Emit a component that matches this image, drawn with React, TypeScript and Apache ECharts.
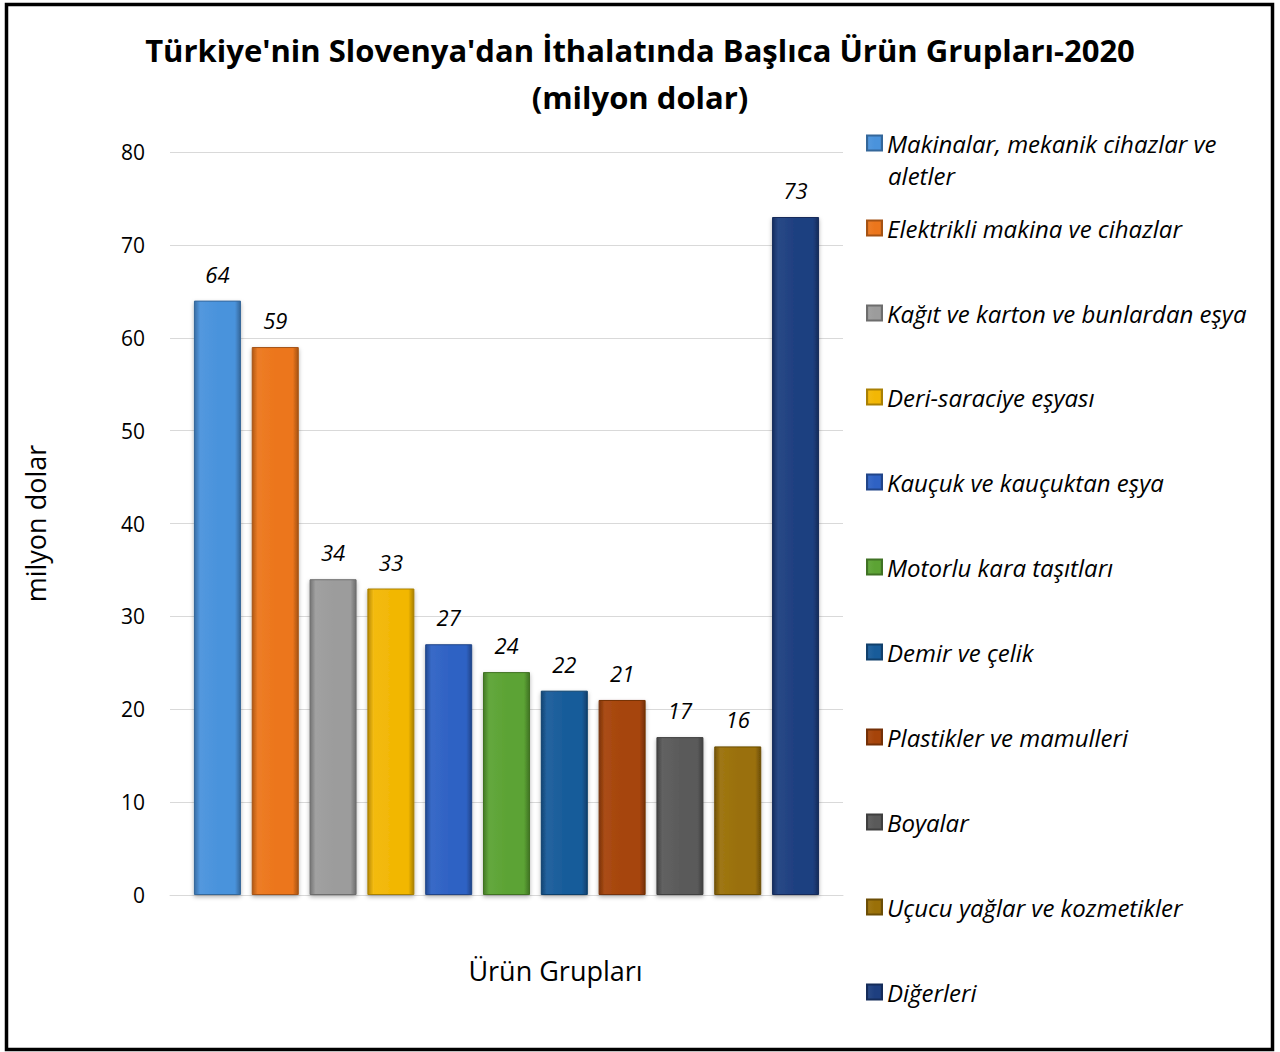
import React, { useEffect, useRef } from "react";
import * as echarts from "echarts";

const categories = [
  "Makinalar, mekanik cihazlar ve aletler",
  "Elektrikli makina ve cihazlar",
  "Kağıt ve karton ve bunlardan eşya",
  "Deri-saraciye eşyası",
  "Kauçuk ve kauçuktan eşya",
  "Motorlu kara taşıtları",
  "Demir ve çelik",
  "Plastikler ve mamulleri",
  "Boyalar",
  "Uçucu yağlar ve kozmetikler",
  "Diğerleri",
];
const values = [64, 59, 34, 33, 27, 24, 22, 21, 17, 16, 73];
const colors = [
  "#4A93DC",
  "#EC761C",
  "#9C9C9C",
  "#F2B705",
  "#2F62C4",
  "#5CA334",
  "#185C9A",
  "#A6440A",
  "#5A5A5A",
  "#9A7008",
  "#1E3F80",
];
const titleText = "Türkiye'nin Slovenya'dan İthalatında Başlıca Ürün Grupları-2020\n(milyon dolar)";
const yAxisName = "milyon dolar";
const xAxisName = "Ürün Grupları";

const FONT = "'Open Sans', 'Noto Sans', sans-serif";

function shade(hex: string, f: number): string {
  const n = parseInt(hex.slice(1), 16);
  let r = (n >> 16) & 255, g = (n >> 8) & 255, b = n & 255;
  if (f < 0) {
    r = Math.round(r * (1 + f)); g = Math.round(g * (1 + f)); b = Math.round(b * (1 + f));
  } else {
    r = Math.round(r + (255 - r) * f); g = Math.round(g + (255 - g) * f); b = Math.round(b + (255 - b) * f);
  }
  return `rgb(${r},${g},${b})`;
}

export default function App() {
  const ref = useRef<HTMLDivElement>(null);
  useEffect(() => {
    document.body.style.margin = "0";
    const chart = echarts.init(ref.current!, null, { renderer: "svg" });
    const legendTops = [143, 228, 313, 397, 482, 567, 652, 737, 822, 907, 992];
    const series = categories.map((name, i) => ({
      name,
      type: "bar",
      data: [values[i]],
      barWidth: 47,
      barGap: "23%",
      itemStyle: {
        color: new echarts.graphic.LinearGradient(0, 0, 1, 0, [
          { offset: 0, color: shade(colors[i], -0.25) },
          { offset: 0.12, color: shade(colors[i], 0.05) },
          { offset: 0.5, color: colors[i] },
          { offset: 0.88, color: shade(colors[i], 0.0) },
          { offset: 1, color: shade(colors[i], -0.3) },
        ]),
        borderColor: shade(colors[i], -0.3),
        borderWidth: 1,
        shadowBlur: 4,
        shadowColor: "rgba(0,0,0,0.3)",
        shadowOffsetY: 2,
      },
      label: {
        show: true,
        position: "top",
        distance: 16,
        fontFamily: FONT,
        fontStyle: "italic",
        fontSize: 22,
        color: "#000",
      },
    }));
    const legends = categories.map((name, i) => ({
      data: [name],
      orient: "vertical",
      left: 866,
      top: legendTops[i] - 15,
      padding: 0,
      itemWidth: 15,
      itemHeight: 15,
      itemGap: 0,
      icon: "rect",
      formatter: (n: string) => (i === 0 ? "Makinalar, mekanik cihazlar ve" : n),
      textStyle: {
        fontFamily: FONT,
        fontStyle: "italic",
        fontSize: 24,
        lineHeight: 30,
        color: "#000",
      },
    }));
    chart.setOption({
      animation: false,
      backgroundColor: "#fff",
      title: {
        text: titleText,
        left: "center",
        top: 26,
        padding: 0,
        textStyle: {
          fontFamily: FONT,
          fontWeight: "bold",
          fontSize: 31,
          lineHeight: 47,
          color: "#000",
        },
      },
      legend: legends,
      grid: { left: 170, right: 437, top: 152, bottom: 157 },
      xAxis: {
        type: "category",
        data: [""],
        axisLabel: { show: false },
        axisTick: { show: false },
        axisLine: { lineStyle: { color: "#d9d9d9", width: 1 } },
        name: xAxisName,
        nameLocation: "middle",
        nameGap: 62,
        nameTextStyle: { fontFamily: FONT, fontSize: 27, color: "#000", padding: [0, 0, 0, 98] },
      },
      yAxis: {
        type: "value",
        min: 0,
        max: 80,
        interval: 10,
        axisLine: { show: false },
        axisTick: { show: false },
        splitLine: { lineStyle: { color: "#d9d9d9", width: 1 } },
        axisLabel: { fontFamily: FONT, fontSize: 21, color: "#000", margin: 25 },
        name: yAxisName,
        nameLocation: "middle",
        nameGap: 121,
        nameRotate: 90,
        nameTextStyle: { fontFamily: FONT, fontSize: 27, color: "#000" },
      },
      series,
      graphic: [
        {
          type: "rect",
          shape: { x: 6.5, y: 4.5, width: 1266, height: 1045 },
          style: { fill: "none", stroke: "#000", lineWidth: 3.5 },
          silent: true,
        },
        {
          type: "text",
          left: 888,
          top: 160,
          style: {
            text: "aletler",
            fontFamily: FONT,
            fontStyle: "italic",
            fontSize: 24,
            lineHeight: 30,
            fill: "#000",
          },
        },
      ],
    });
    return () => chart.dispose();
  }, []);
  return <div ref={ref} style={{ position: "absolute", left: 0, top: 0, width: 1280, height: 1052 }} />;
}
